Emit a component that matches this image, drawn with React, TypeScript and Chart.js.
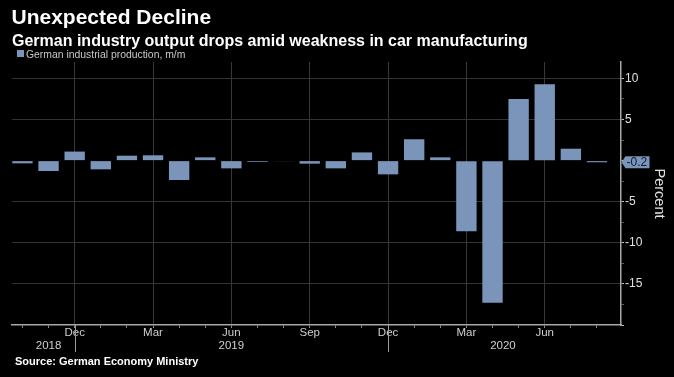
import React, { useEffect, useRef } from 'react';
import { Chart, registerables } from 'chart.js';

Chart.register(...registerables);

const months = [
  'Oct 2018', 'Nov 2018', 'Dec 2018',
  'Jan 2019', 'Feb 2019', 'Mar 2019', 'Apr 2019', 'May 2019', 'Jun 2019',
  'Jul 2019', 'Aug 2019', 'Sep 2019', 'Oct 2019', 'Nov 2019', 'Dec 2019',
  'Jan 2020', 'Feb 2020', 'Mar 2020', 'Apr 2020', 'May 2020', 'Jun 2020',
  'Jul 2020', 'Aug 2020',
];

const production = [
  -0.33, -1.26, 1.1,
  -1.06, 0.6, 0.65, -2.36, 0.4, -0.94,
  -0.15, -0.05, -0.37, -0.94, 1.0, -1.67,
  2.6, 0.4, -8.6, -17.3, 7.5, 9.3,
  1.45, -0.2,
];

const monthTickLabels = [
  '', '', 'Dec',
  '', '', 'Mar', '', '', 'Jun',
  '', '', 'Sep', '', '', 'Dec',
  '', '', 'Mar', '', '', 'Jun',
  '', '',
];

const yearLabels = ['2018', '2019', '2020'];
const yearLabelAt = [1, 8, 18.4];
const yearBreakAt = [2, 14];

const yTicks = [-20, -17.5, -15, -12.5, -10, -7.5, -5, -2.5, 0, 2.5, 5, 7.5, 10];
const yLabelled = [10, 5, -5, -10, -15];

const BAR = '#7b94ba';
const FONT = "'Liberation Sans', Arial, sans-serif";

const decorPlugin = {
  id: 'decor',
  afterDraw(chart: any) {
    const { ctx } = chart;
    const xs = chart.scales.x;
    const ys = chart.scales.y;
    const area = chart.chartArea;
    ctx.save();
    // year separators
    ctx.strokeStyle = '#9a9a9a';
    ctx.lineWidth = 1;
    yearBreakAt.forEach((v) => {
      const x = Math.round(xs.getPixelForValue(v)) + 0.5;
      ctx.beginPath();
      ctx.moveTo(x, area.bottom);
      ctx.lineTo(x, area.bottom + 27);
      ctx.stroke();
    });
    // year labels
    ctx.fillStyle = '#cfcfcf';
    ctx.font = `11.5px ${FONT}`;
    ctx.textAlign = 'center';
    ctx.textBaseline = 'middle';
    yearLabels.forEach((t, i) => {
      ctx.fillText(t, xs.getPixelForValue(yearLabelAt[i]), area.bottom + 21);
    });
    // last value badge
    const last = production[production.length - 1];
    const y = ys.getPixelForValue(last);
    const x0 = area.right + 0.5;
    ctx.fillStyle = BAR;
    ctx.beginPath();
    ctx.moveTo(x0, y);
    ctx.lineTo(x0 + 4, y - 6);
    ctx.lineTo(x0 + 28, y - 6);
    ctx.lineTo(x0 + 28, y + 6);
    ctx.lineTo(x0 + 4, y + 6);
    ctx.closePath();
    ctx.fill();
    ctx.fillStyle = '#0f1c33';
    ctx.font = `12px ${FONT}`;
    ctx.textAlign = 'left';
    ctx.textBaseline = 'middle';
    ctx.fillText(String(last), x0 + 5, y + 0.5);
    // axis title
    ctx.save();
    ctx.translate(658.5, (area.top + area.bottom) / 2);
    ctx.rotate(Math.PI / 2);
    ctx.fillStyle = '#e0e0e0';
    ctx.font = `14.5px ${FONT}`;
    ctx.textAlign = 'center';
    ctx.textBaseline = 'middle';
    ctx.fillText('Percent', 0, 0);
    ctx.restore();
    ctx.restore();
  },
};

export default function App() {
  const canvasRef = useRef<HTMLCanvasElement | null>(null);

  useEffect(() => {
    const canvas = canvasRef.current;
    if (!canvas) return;
    Chart.defaults.font.family = FONT;
    const chart = new Chart(canvas, {
      type: 'bar',
      data: {
        datasets: [
          {
            label: 'German industrial production, m/m',
            data: production.map((v, i) => ({ x: i, y: v })),
            backgroundColor: BAR,
            borderWidth: 0,
            barPercentage: 0.78,
            categoryPercentage: 1,
          },
        ],
      },
      options: {
        responsive: false,
        animation: false,
        events: [],
        layout: { padding: { left: 12, top: 62, right: 0, bottom: 0 } },
        plugins: {
          legend: { display: false },
          tooltip: { enabled: false },
          title: { display: false },
        },
        scales: {
          x: {
            type: 'linear',
            offset: false,
            min: -0.4,
            max: 22.92,
            afterBuildTicks: (scale: any) => {
              scale.ticks = months.map((_, i) => ({ value: i }));
            },
            afterFit: (scale: any) => {
              scale.height = 52;
            },
            ticks: {
              autoSkip: false,
              maxRotation: 0,
              minRotation: 0,
              padding: -2,
              color: '#cfcfcf',
              font: { size: 11.5, family: FONT },
              callback: (v: any) => monthTickLabels[Math.round(Number(v))] ?? '',
            },
            grid: {
              offset: false,
              color: (c: any) =>
                monthTickLabels[Math.round(c.tick?.value ?? -1)] ? '#383838' : 'rgba(0,0,0,0)',
              tickColor: '#8a8a8a',
              tickLength: 3,
              lineWidth: 1,
            },
            border: { display: true, color: '#a8a8a8', width: 1.5 },
          },
          y: {
            type: 'linear',
            position: 'right',
            min: -20,
            max: 12,
            afterBuildTicks: (scale: any) => {
              scale.ticks = yTicks.map((v) => ({ value: v }));
            },
            afterFit: (scale: any) => {
              scale.width = 53;
            },
            ticks: {
              padding: 1,
              color: '#e0e0e0',
              font: { size: 12, family: FONT },
              callback: (v: any) => (yLabelled.includes(Number(v)) ? String(v) : ''),
            },
            grid: {
              color: (c: any) =>
                yLabelled.includes(c.tick?.value) ? '#333333' : 'rgba(0,0,0,0)',
              tickColor: (c: any) =>
                c.tick && c.tick.value % 5 === 0 ? '#c0c0c0' : '#5a5a5a',
              tickLength: 3,
              lineWidth: 1,
            },
            border: { display: true, color: '#a8a8a8', width: 1.5 },
          },
        },
      },
      plugins: [decorPlugin],
    } as any);
    return () => chart.destroy();
  }, []);

  return (
    <div
      style={{
        position: 'fixed',
        left: 0,
        top: 0,
        width: 674,
        height: 377,
        background: '#000',
        overflow: 'hidden',
        fontFamily: FONT,
      }}
    >
      <canvas
        ref={canvasRef}
        width={674}
        height={377}
        style={{ position: 'absolute', left: 0, top: 0, width: 674, height: 377 }}
      />
      <div
        style={{
          position: 'absolute', left: 11.5, top: 6, color: '#fff', fontWeight: 'bold',
          fontSize: 21, lineHeight: '21px', whiteSpace: 'nowrap',
        }}
      >
        Unexpected Decline
      </div>
      <div
        style={{
          position: 'absolute', left: 12, top: 33, color: '#fff', fontWeight: 'bold',
          fontSize: 16, lineHeight: '16px', whiteSpace: 'nowrap',
        }}
      >
        German industry output drops amid weakness in car manufacturing
      </div>
      <div
        style={{
          position: 'absolute', left: 17, top: 50, width: 7, height: 7, background: BAR,
        }}
      />
      <div
        style={{
          position: 'absolute', left: 26, top: 48.5, color: '#c8c8c8',
          fontSize: 10.4, lineHeight: '12px', whiteSpace: 'nowrap',
        }}
      >
        German industrial production, m/m
      </div>
      <div
        style={{
          position: 'absolute', left: 15, top: 355.7, color: '#fff', fontWeight: 'bold',
          fontSize: 11, lineHeight: '11px', whiteSpace: 'nowrap',
        }}
      >
        Source: German Economy Ministry
      </div>
    </div>
  );
}
